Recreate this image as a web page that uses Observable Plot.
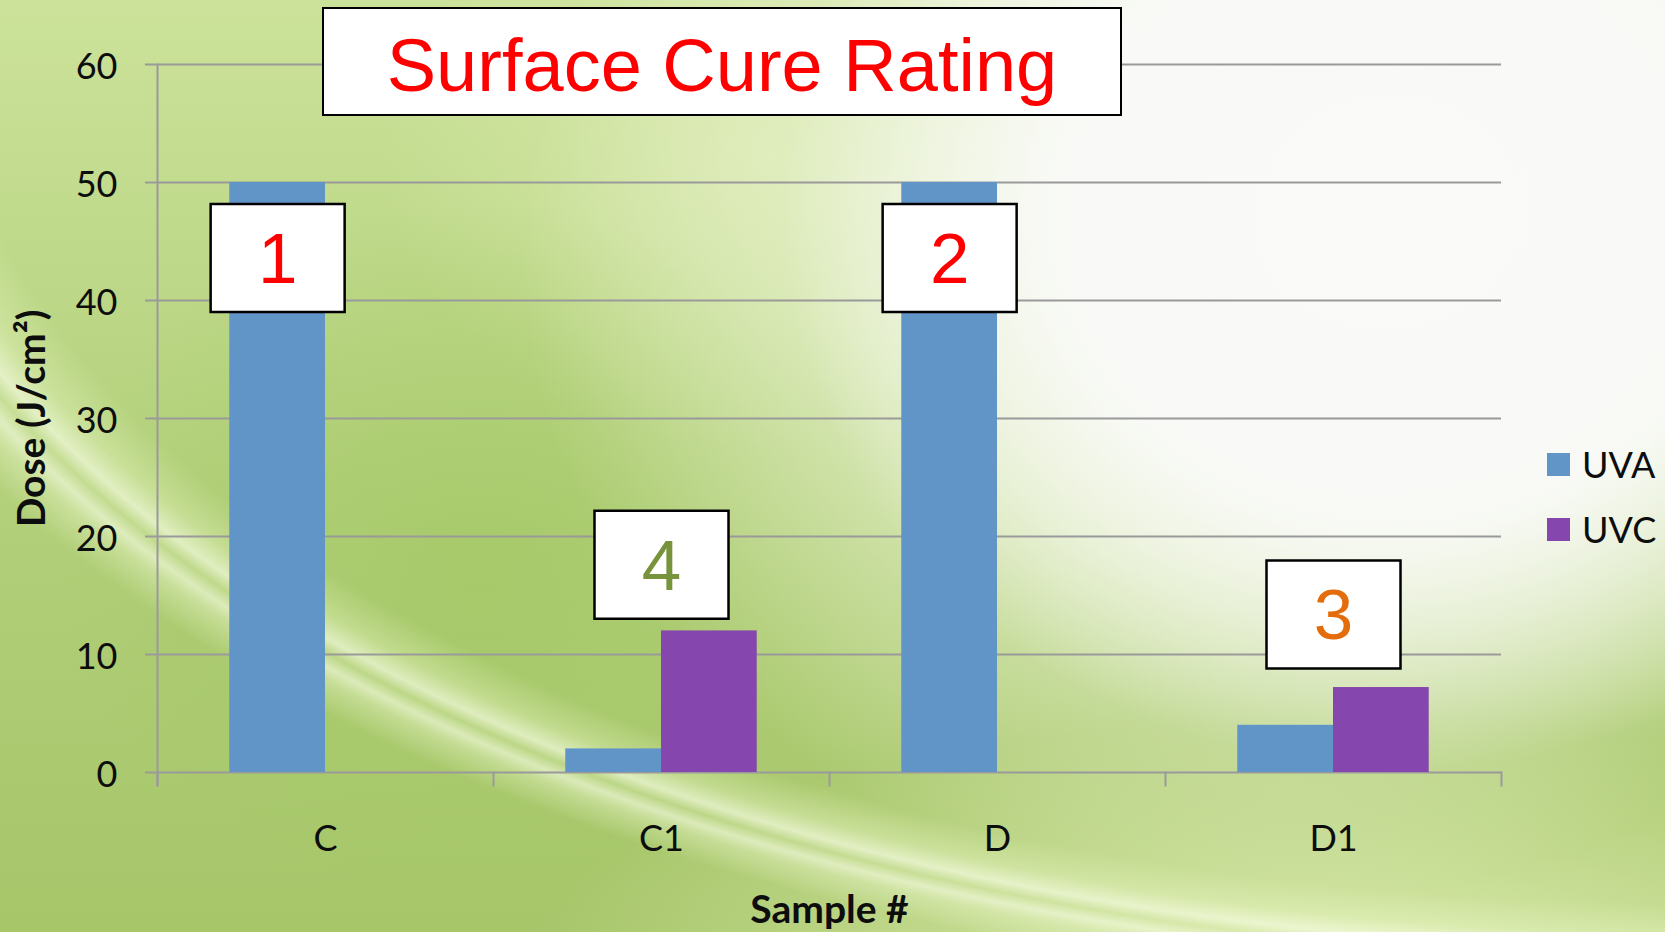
<!DOCTYPE html>
<html>
<head>
<meta charset="utf-8">
<script src="https://cdn.jsdelivr.net/npm/d3@7"></script>
<script src="https://cdn.jsdelivr.net/npm/@observablehq/plot@0.6"></script>
<style>
html, body { margin: 0; padding: 0; width: 1665px; height: 932px; overflow: hidden; }
#stage {
  position: relative; width: 1665px; height: 932px; overflow: hidden;
  background:
    radial-gradient(ellipse 620px 560px at 1400px 210px, rgba(250,250,249,1) 0%, rgba(249,250,247,0.98) 55%, rgba(248,249,244,0) 100%),
    radial-gradient(ellipse 760px 640px at 1280px 260px, rgba(246,248,238,0.95) 0%, rgba(236,244,214,0.7) 50%, rgba(215,232,175,0) 100%),
    radial-gradient(ellipse 1874px 981px at 100% 0%, rgba(255,255,255,0) 92%, rgba(232,246,195,0.4) 95%, rgba(246,252,226,0.7) 96.6%, rgba(232,246,195,0.3) 97.6%, rgba(246,252,226,0.65) 98.6%, rgba(236,248,205,0.4) 99.6%, rgba(255,255,255,0) 102%),
    radial-gradient(ellipse 820px 240px at 1350px 960px, rgba(222,237,178,0.95) 0%, rgba(222,237,178,0) 100%),
    radial-gradient(ellipse 420px 360px at 480px 560px, rgba(160,198,96,0.55) 0%, rgba(160,198,96,0) 100%),
    radial-gradient(ellipse 380px 300px at 760px 150px, rgba(222,236,180,0.7) 0%, rgba(222,236,180,0) 100%),
    linear-gradient(180deg, #cce29a 0%, #bdd888 30%, #b0ce77 60%, #a7c66a 100%);
}
#chart { position: absolute; left: 0; top: 0; }
#chart svg { display: block; }
g[aria-label="y-axis label"], g[aria-label="y-axis label"] text,
g[aria-label="fx-axis label"], g[aria-label="fx-axis label"] text { font-weight: bold; font-size: 39px; }
.title {
  position: absolute; left: 322px; top: 7px; width: 800px; height: 109px;
  box-sizing: border-box; background: #fff; border: 2px solid #000; padding-top: 8px;
  font-family: "Liberation Sans", Arial, sans-serif; font-size: 74px; color: #ff0000;
  display: flex; align-items: center; justify-content: center; line-height: 1;
}
.legend { position: absolute; left: 1547px; top: 446px; font-family: Lato, sans-serif; font-size: 36px; color: #0d0d0d; }
.legend .item { display: flex; align-items: center; height: 36px; margin-bottom: 29px; }
.legend .sw { width: 23px; height: 23px; margin-right: 12px; display: inline-block; }
</style>
</head>
<body>
<div id="stage">
  <div id="chart"></div>
  <div class="title" id="title"></div>
  <div class="legend" id="legend"></div>
</div>
<script>
// ---- data ----
const samples = ["C", "C1", "D", "D1"];
const seriesNames = ["UVA", "UVC"];
const uvaDose = [50, 2, 50, 4];
const uvcDose = [0, 12, 0, 7.2];
const yTicks = [0, 10, 20, 30, 40, 50, 60];
const ratingSamples = ["C", "C1", "D", "D1"];
const ratingValues = [1, 4, 2, 3];
const ratingAnchorSeries = ["UVA", null, "UVA", null];
const ratingLevel = [43.6, 17.6, 43.6, 13.4];
const titleText = "Surface Cure Rating";
const xTitle = "Sample #";
const yTitle = "Dose (J/cm²)";

// ---- styles ----
const seriesColors = ["#6195C8", "#8547AD"];
const ratingPalette = {1: "#ff0000", 2: "#ff0000", 3: "#E46C0A", 4: "#77933C"};
const W = 1665, H = 932, mL = 156, mR = 164, mT = 64, mB = 160;
const innerH = H - mT - mB;
const axisGray = "#9a9a9a";

const rows = samples.flatMap((s, i) => [
  {sample: s, series: "UVA", dose: uvaDose[i]},
  {sample: s, series: "UVC", dose: uvcDose[i]}
]);
const ratings = ratingSamples.map((s, i) => ({sample: s, rating: ratingValues[i], anchor: ratingAnchorSeries[i], level: ratingLevel[i]}));
const boxSymbol = {draw(ctx) { ctx.rect(-67, -54, 134, 108); }};

const ratingMarks = ratings.flatMap(r => {
  const opts = {fx: "sample", y: "level"};
  if (r.anchor) opts.x = "anchor";
  return [
    Plot.dot([r], {...opts, symbol: boxSymbol, fill: "white", stroke: "black", strokeWidth: 2.5, fillOpacity: 1}),
    Plot.text([r], {...opts, text: d => String(d.rating), fill: ratingPalette[r.rating], fontSize: 71, fontFamily: "Liberation Sans, Arial, sans-serif", lineAnchor: "middle", dy: 2})
  ];
});

const chart = Plot.plot({
  width: W, height: H,
  marginLeft: mL, marginRight: mR, marginTop: mT, marginBottom: mB,
  style: {background: "transparent", fontFamily: "Lato, sans-serif", fontSize: "36px", color: "#0d0d0d", overflow: "visible"},
  fx: {domain: samples, padding: 0, label: xTitle},
  x: {domain: seriesNames, paddingInner: 0, paddingOuter: 0.755, axis: null, round: false},
  y: {domain: [0, 60], label: yTitle},
  color: {domain: seriesNames, range: seriesColors},
  marks: [
    Plot.gridY(yTicks, {stroke: axisGray, strokeOpacity: 1, strokeWidth: 2}),
    Plot.frame({anchor: "left", facetAnchor: "left", insetBottom: -13, stroke: axisGray, strokeWidth: 2}),
    Plot.frame({anchor: "left", insetTop: innerH, insetBottom: -13, stroke: axisGray, strokeWidth: 2}),
    Plot.frame({anchor: "right", facetAnchor: "right", insetTop: innerH, insetBottom: -13, stroke: axisGray, strokeWidth: 2}),
    Plot.barY(rows, {fx: "sample", x: "series", y: "dose", fill: "series"}),
    Plot.axisY(yTicks, {tickSize: 12, stroke: axisGray, strokeWidth: 2, tickFormat: () => "", label: null}),
    Plot.axisY(yTicks, {tickSize: 0, tickPadding: 40, dy: 3, label: yTitle, labelAnchor: "center", labelArrow: "none", labelOffset: 140, tickFormat: d => String(d)}),
    Plot.axisFx({anchor: "bottom", tickSize: 0, tickPadding: 53, label: xTitle, labelAnchor: "center", labelArrow: "none", labelOffset: 150}),
    ...ratingMarks
  ]
});
document.getElementById("chart").appendChild(chart);

document.getElementById("title").textContent = titleText;
const legend = document.getElementById("legend");
seriesNames.forEach((s, i) => {
  const item = document.createElement("div");
  item.className = "item";
  const sw = document.createElement("span");
  sw.className = "sw";
  sw.style.background = seriesColors[i];
  item.appendChild(sw);
  item.appendChild(document.createTextNode(s));
  legend.appendChild(item);
});
</script>
</body>
</html>
